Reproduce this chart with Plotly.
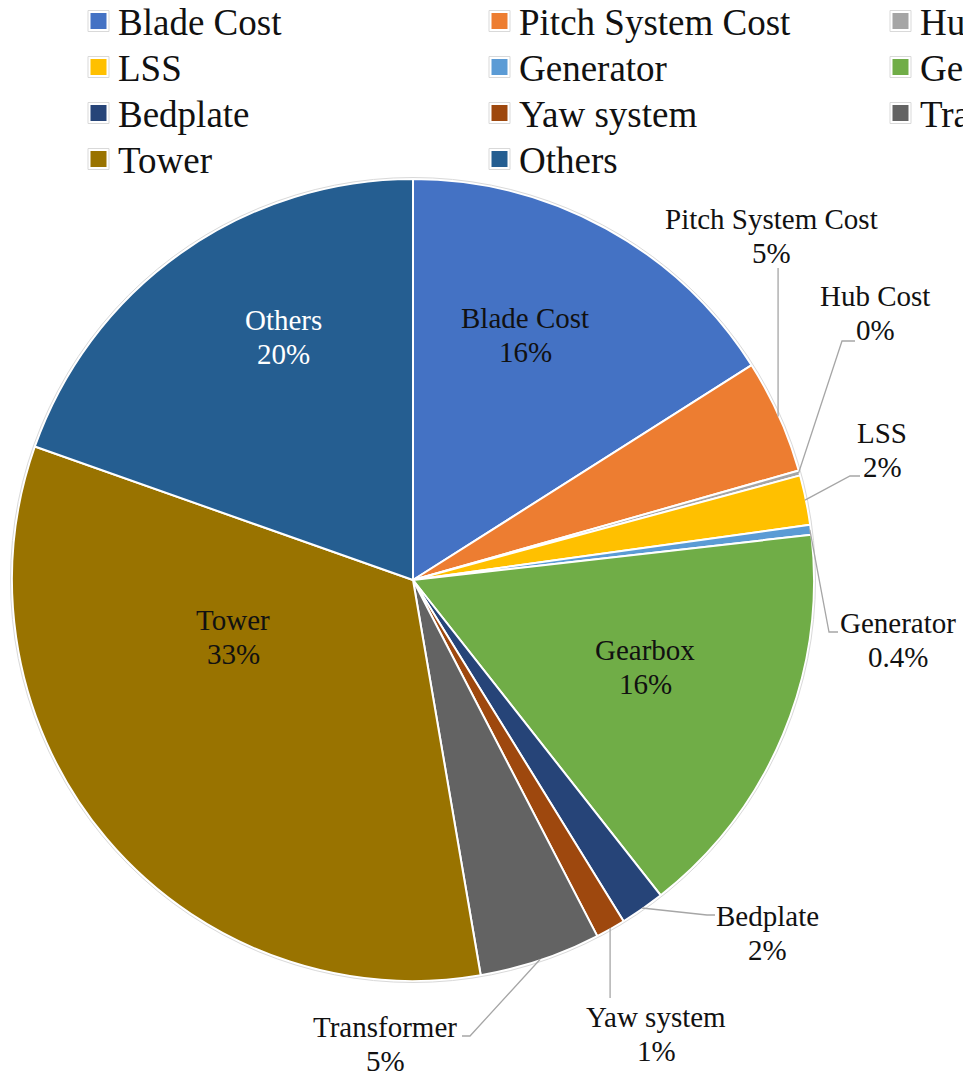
import math
import plotly.graph_objects as go

# Cost breakdown of the turbine (share of total, %)
components = ["Blade Cost", "Pitch System Cost", "Hub Cost", "LSS", "Generator",
              "Gearbox", "Bedplate", "Yaw system", "Transformer", "Tower", "Others"]
shares = [16.0, 4.6, 0.2, 2.0, 0.4, 16.2, 1.8, 1.2, 4.9, 33.1, 19.6]
label_decimals = [0, 0, 0, 0, 1, 0, 0, 0, 0, 0, 0]
colors = ["#4472C4", "#ED7D31", "#A5A5A5", "#FFC000", "#5B9BD5", "#70AD47",
          "#264478", "#9E480E", "#636363", "#997300", "#255E91"]

W, H = 963, 1074
CX, CY, R = 413, 580, 401
FONT = "Liberation Serif, Times New Roman, serif"
TEXT = "#111111"
LINE_GAP = 34


def px(x):
    return x / W


def py(y):
    return 1 - y / H


total = sum(shares)
pct_text = [f"{v / total * 100:.{d}f}%" for v, d in zip(shares, label_decimals)]

# mid-angle of every slice (clockwise from 12 o'clock), in pixel space
mid_frac = []
acc = 0.0
for v in shares:
    mid_frac.append((acc + v / 2) / total)
    acc += v


def edge_point(i, r=R):
    th = 2 * math.pi * mid_frac[i]
    return CX + r * math.sin(th), CY - r * math.cos(th)


fig = go.Figure(go.Pie(
    labels=components,
    values=shares,
    sort=False,
    direction="clockwise",
    rotation=0,
    marker=dict(colors=colors, line=dict(color="#FFFFFF", width=2)),
    textinfo="none",
    hoverinfo="label+percent",
    showlegend=False,
    domain=dict(x=[px(CX - R), px(CX + R)], y=[py(CY + R), py(CY - R)]),
))

shapes = []
annotations = []


def two_line_label(i, x, y, size, color):
    """Category name above its percentage, centred on (x, y) in pixels."""
    for txt, yy in ((components[i], y - LINE_GAP / 2), (pct_text[i], y + LINE_GAP / 2)):
        annotations.append(dict(x=px(x), y=py(yy), xref="paper", yref="paper",
                                text=txt, showarrow=False,
                                xanchor="center", yanchor="middle", align="center",
                                font=dict(family=FONT, size=size, color=color)))


# thin outline around the pie
shapes.append(dict(type="circle", xref="paper", yref="paper",
                   x0=px(CX - R - 1.5), x1=px(CX + R + 1.5),
                   y0=py(CY + R + 1.5), y1=py(CY - R - 1.5),
                   line=dict(color="#D9D9D9", width=1), layer="above"))

# labels drawn inside the larger slices: index -> (x, y, colour)
inside = {
    0: (525, 335, TEXT),
    5: (645, 667, TEXT),
    9: (233, 637, TEXT),
    10: (283, 337, "#FFFFFF"),
}
for i, (x, y, c) in inside.items():
    two_line_label(i, x, y, 29, c)

# outside labels with leader lines: index -> (label centre, leader bend points)
outside = {
    1: ((771, 236), [(None, 268)]),
    2: ((875, 313), [(842, 341), (855, 341)]),
    3: ((882, 450), [(850, 476), (860, 476)]),
    4: ((898, 640), [(829, 632), (838, 632)]),
    6: ((767, 933), [(707, 915), (715, 915)]),
    7: ((656, 1034), [(None, 998)]),
    8: ((385, 1044), [(470, 1036), (462, 1036)]),
}
for i, ((lx, ly), bends) in outside.items():
    sx, sy = edge_point(i, R - 1)
    pts = [(sx, sy)] + [((sx if bx is None else bx), by) for bx, by in bends]
    path = "M " + " L ".join(f"{px(x):.5f},{py(y):.5f}" for x, y in pts)
    shapes.append(dict(type="path", xref="paper", yref="paper", path=path,
                       line=dict(color="#A6A6A6", width=1.3)))
    two_line_label(i, lx, ly, 29, TEXT)

# legend: three columns, row-major order
col_x = [88, 489, 890]
row_y = [21, 67, 113, 159]
for k, name in enumerate(components):
    r, c = divmod(k, 3)
    x0, yc = col_x[c], row_y[r]
    shapes.append(dict(type="rect", xref="paper", yref="paper",
                       x0=px(x0), x1=px(x0 + 21), y0=py(yc + 10.5), y1=py(yc - 10.5),
                       fillcolor="#FFFFFF", line=dict(color="#D9D9D9", width=1)))
    shapes.append(dict(type="rect", xref="paper", yref="paper",
                       x0=px(x0 + 2.5), x1=px(x0 + 18.5), y0=py(yc + 8), y1=py(yc - 8),
                       fillcolor=colors[k], line=dict(width=0)))
    annotations.append(dict(x=px(x0 + 28), y=py(yc + 1), xref="paper", yref="paper",
                            text=name, showarrow=False, xanchor="left", yanchor="middle",
                            font=dict(family=FONT, size=37, color=TEXT)))

fig.update_layout(
    width=W, height=H,
    margin=dict(l=0, r=0, t=0, b=0),
    paper_bgcolor="#FFFFFF",
    plot_bgcolor="#FFFFFF",
    shapes=shapes,
    annotations=annotations,
)

fig.write_html("out.html")
